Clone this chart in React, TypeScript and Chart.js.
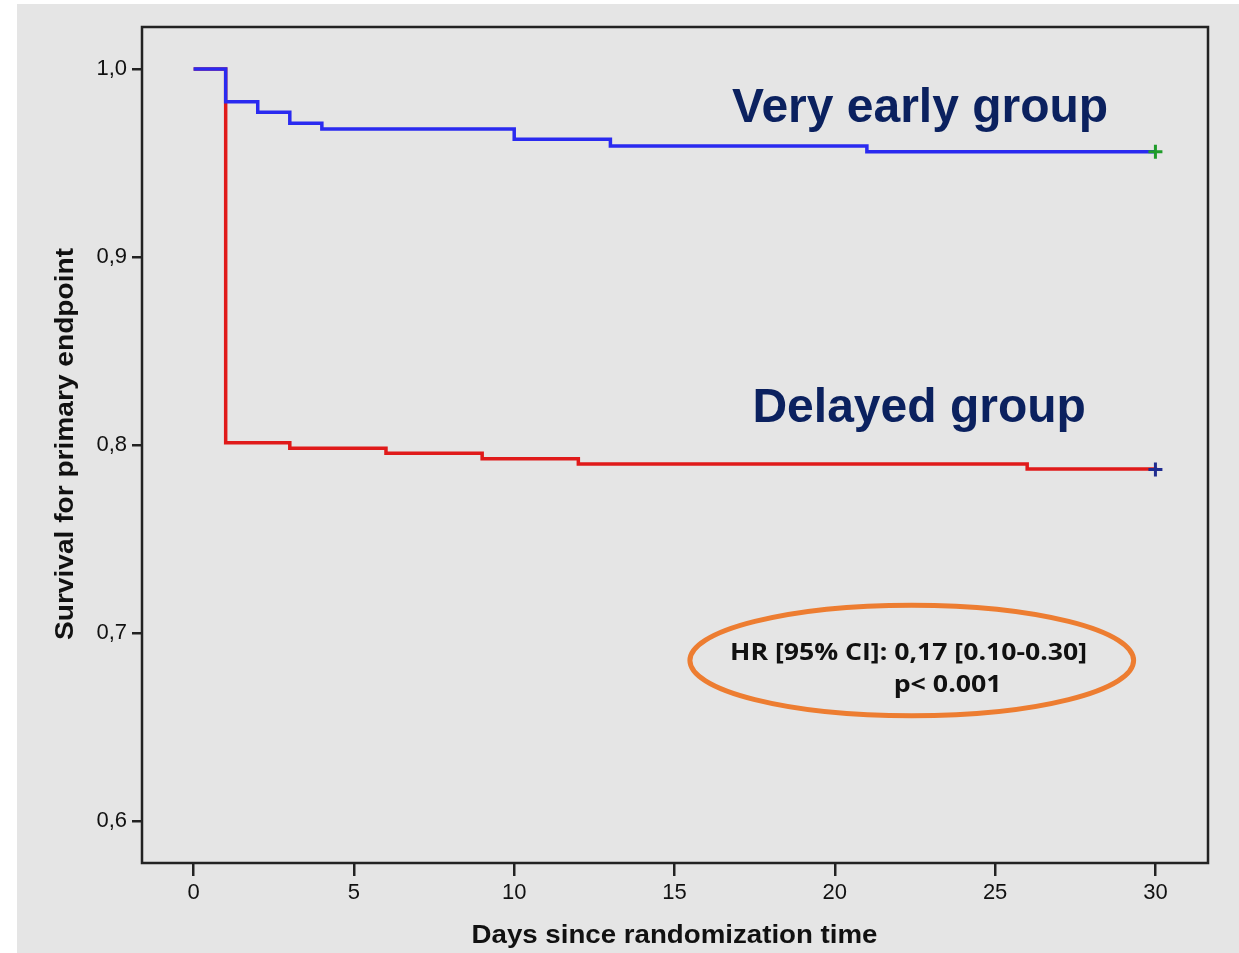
import React, { useEffect, useRef } from "react";
import { Chart, registerables } from "chart.js";

Chart.register(...registerables);

// ---- Data ----
const xTickValues = [0, 5, 10, 15, 20, 25, 30];
const yTickValues = [0.6, 0.7, 0.8, 0.9, 1.0];

const veryEarlyDays = [0, 1, 2, 3, 4, 10, 13, 21, 30];
const veryEarlySurvival = [1.0, 0.9826, 0.977, 0.9711, 0.968, 0.9626, 0.959, 0.956, 0.956];

const delayedDays = [0, 1, 3, 6, 9, 12, 26, 30];
const delayedSurvival = [1.0, 0.8012, 0.7983, 0.7956, 0.7927, 0.7899, 0.7872, 0.787];

const seriesLabels = ["Very early group", "Delayed group"];
const xTitle = "Days since randomization time";
const yTitle = "Survival for primary endpoint";
const hrText = "HR [95% CI]: 0,17 [0.10-0.30]";
const pText = "p< 0.001";

// ---- Axis ranges ----
const X_MIN = -1.61;
const X_MAX = 31.64;
const Y_MIN = 0.5777;
const Y_MAX = 1.0223;

// ---- Annotation anchors (data coordinates) ----
const veryEarlyLabelPos = { x: 22.66, y: 0.972 };
const delayedLabelPos = { x: 22.63, y: 0.8124 };
const ellipsePos = { x: 22.4, y: 0.6854, rx: 6.92, ry: 0.0294 };
const hrPos = { x: 22.3, y: 0.6856 };
const pPos = { x: 23.52, y: 0.6685 };

function drawFitText(
  ctx: CanvasRenderingContext2D,
  text: string,
  x: number,
  y: number,
  font: string,
  targetWidth: number,
  color: string,
  rotate = 0
) {
  ctx.save();
  ctx.font = font;
  const w = ctx.measureText(text).width;
  const s = targetWidth / w;
  ctx.translate(x, y);
  if (rotate) ctx.rotate(rotate);
  ctx.scale(s, 1);
  ctx.textAlign = "center";
  ctx.textBaseline = "alphabetic";
  ctx.fillStyle = color;
  ctx.fillText(text, 0, 0);
  ctx.restore();
}

const decorPlugin = {
  id: "decor",
  beforeDraw(chart: any) {
    const ctx: CanvasRenderingContext2D = chart.ctx;
    ctx.save();
    ctx.fillStyle = "#ffffff";
    ctx.fillRect(0, 0, chart.width, chart.height);
    ctx.fillStyle = "#e5e5e5";
    ctx.fillRect(17, 4, chart.width - 17, chart.height - 4);
    ctx.restore();
  },
  afterDraw(chart: any) {
    const ctx: CanvasRenderingContext2D = chart.ctx;
    const { left, top, right, bottom } = chart.chartArea;
    const xs = chart.scales.x;
    const ys = chart.scales.y;

    // frame
    ctx.save();
    ctx.strokeStyle = "#222222";
    ctx.lineWidth = 2.5;
    ctx.strokeRect(left, top, right - left, bottom - top);
    ctx.restore();

    // axis titles
    drawFitText(ctx, xTitle, (left + right) / 2 - 0.5, 943.3, "bold 25px 'Liberation Sans', Arial, sans-serif", 406, "#111111");
    drawFitText(ctx, yTitle, 73, 444, "bold 25px 'Liberation Sans', Arial, sans-serif", 392, "#111111", -Math.PI / 2);

    // group labels
    const navy = "#0b215f";
    ctx.save();
    ctx.font = "bold 48px 'Liberation Sans', Arial, sans-serif";
    ctx.fillStyle = navy;
    ctx.textAlign = "center";
    ctx.textBaseline = "alphabetic";
    ctx.fillText(seriesLabels[0], xs.getPixelForValue(veryEarlyLabelPos.x), ys.getPixelForValue(veryEarlyLabelPos.y));
    ctx.fillText(seriesLabels[1], xs.getPixelForValue(delayedLabelPos.x), ys.getPixelForValue(delayedLabelPos.y));
    ctx.restore();

    // ellipse
    const cx = xs.getPixelForValue(ellipsePos.x);
    const cy = ys.getPixelForValue(ellipsePos.y);
    const rx = xs.getPixelForValue(ellipsePos.x + ellipsePos.rx) - cx;
    const ry = cy - ys.getPixelForValue(ellipsePos.y + ellipsePos.ry);
    ctx.save();
    ctx.beginPath();
    ctx.ellipse(cx, cy, rx, ry, 0, 0, Math.PI * 2);
    ctx.strokeStyle = "#ed7d31";
    ctx.lineWidth = 5;
    ctx.stroke();
    ctx.restore();

    drawFitText(ctx, hrText, xs.getPixelForValue(hrPos.x), ys.getPixelForValue(hrPos.y), "bold 24px 'Open Sans', Lato, sans-serif", 357, "#111111");
    drawFitText(ctx, pText, xs.getPixelForValue(pPos.x), ys.getPixelForValue(pPos.y), "bold 24px 'Open Sans', Lato, sans-serif", 108, "#111111");
  },
};

function lastOnly(n: number, r: number) {
  return Array.from({ length: n }, (_, i) => (i === n - 1 ? r : 0));
}

export default function App() {
  const ref = useRef<HTMLCanvasElement>(null);

  useEffect(() => {
    const canvas = ref.current;
    if (!canvas) return;
    const tickFont = { family: "'Liberation Sans', Arial, sans-serif", size: 22 };
    const chart = new Chart(canvas, {
      type: "line",
      data: {
        datasets: [
          {
            label: seriesLabels[0],
            data: veryEarlyDays.map((d, i) => ({ x: d, y: veryEarlySurvival[i] })),
            borderColor: "#2a2af0",
            borderWidth: 3.5,
            stepped: "before",
            fill: false,
            order: 0,
            pointStyle: "cross",
            pointRadius: lastOnly(veryEarlyDays.length, 7),
            pointHoverRadius: lastOnly(veryEarlyDays.length, 7),
            pointBorderColor: "#1f9c2a",
            pointBackgroundColor: "#1f9c2a",
            pointBorderWidth: 3,
          },
          {
            label: seriesLabels[1],
            data: delayedDays.map((d, i) => ({ x: d, y: delayedSurvival[i] })),
            borderColor: "#e01a1a",
            borderWidth: 3.5,
            stepped: "before",
            fill: false,
            order: 1,
            pointStyle: "cross",
            pointRadius: lastOnly(delayedDays.length, 7),
            pointHoverRadius: lastOnly(delayedDays.length, 7),
            pointBorderColor: "#1f2b8f",
            pointBackgroundColor: "#1f2b8f",
            pointBorderWidth: 3,
          },
        ],
      },
      options: {
        responsive: false,
        devicePixelRatio: 1,
        animation: false,
        events: [],
        layout: { padding: { top: 27, right: 31, bottom: 0, left: 0 } },
        plugins: {
          legend: { display: false },
          tooltip: { enabled: false },
        },
        scales: {
          x: {
            type: "linear",
            min: X_MIN,
            max: X_MAX,
            afterBuildTicks: (scale: any) => {
              scale.ticks = xTickValues.map((v) => ({ value: v }));
            },
            afterFit: (scale: any) => {
              scale.height = 90;
            },
            border: { display: false },
            grid: {
              drawOnChartArea: false,
              drawTicks: true,
              tickLength: 13,
              color: "#222222",
              lineWidth: 2.5,
            },
            ticks: {
              font: tickFont,
              color: "#111111",
              padding: 4,
              maxRotation: 0,
              autoSkip: false,
              callback: (v: any) => String(v),
            },
          },
          y: {
            type: "linear",
            min: Y_MIN,
            max: Y_MAX,
            afterBuildTicks: (scale: any) => {
              scale.ticks = yTickValues.map((v) => ({ value: v }));
            },
            afterFit: (scale: any) => {
              scale.width = 142;
            },
            border: { display: false },
            grid: {
              drawOnChartArea: false,
              drawTicks: true,
              tickLength: 10,
              color: "#222222",
              lineWidth: 2.5,
            },
            ticks: {
              font: tickFont,
              color: "#111111",
              padding: 5,
              autoSkip: false,
              callback: (v: any) => Number(v).toFixed(1).replace(".", ","),
            },
          },
        },
      },
      plugins: [decorPlugin],
    } as any);
    return () => chart.destroy();
  }, []);

  return (
    <div style={{ position: "absolute", left: 0, top: 0, width: 1239, height: 953 }}>
      <canvas ref={ref} width={1239} height={953} style={{ display: "block" }} />
    </div>
  );
}
